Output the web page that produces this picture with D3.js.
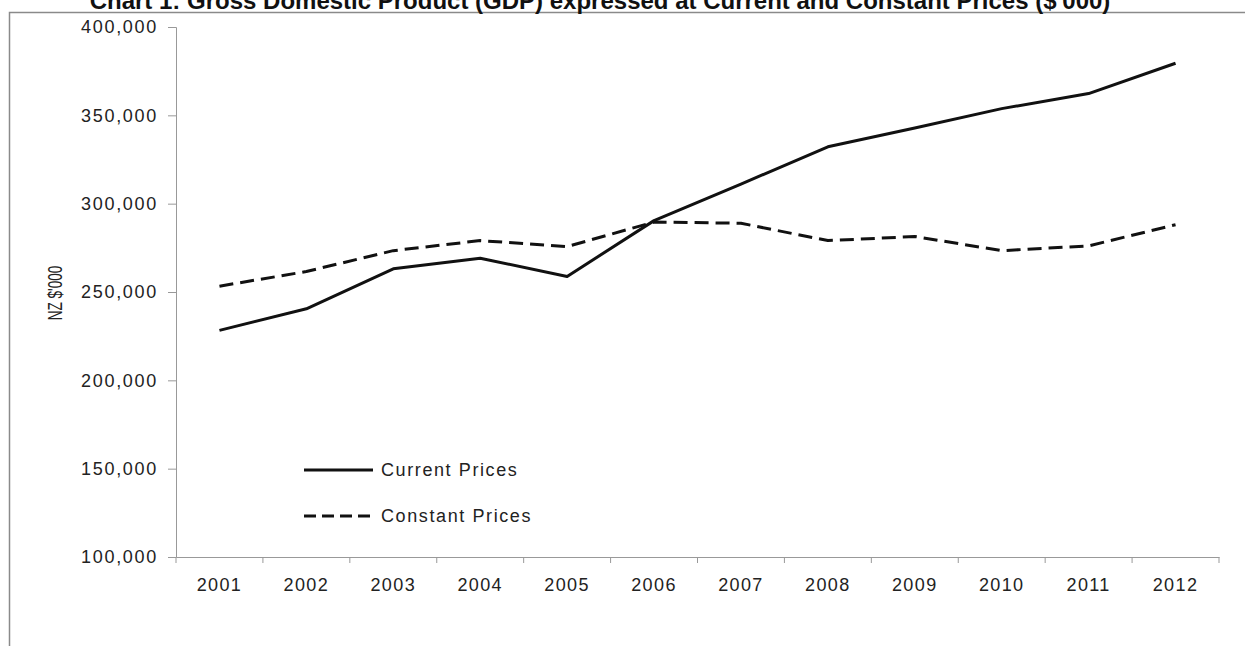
<!DOCTYPE html>
<html>
<head>
<meta charset="utf-8">
<script src="https://cdn.jsdelivr.net/npm/d3@7/dist/d3.min.js"></script>
<style>
  html, body { margin: 0; padding: 0; background: #fff; }
  svg { display: block; }
  text { font-family: "Liberation Sans", Arial, sans-serif; fill: #222; }
</style>
</head>
<body>
<svg id="chart" width="1245" height="646"></svg>
<script>
// GDP in NZ$'000, years 2001–2012
const years = ["2001","2002","2003","2004","2005","2006","2007","2008","2009","2010","2011","2012"];
const currentPrices  = [228300, 240500, 263100, 269100, 258800, 290400, 311100, 332200, 342800, 353800, 362300, 379500];
const constantPrices = [253300, 261600, 273400, 279100, 275700, 289600, 288900, 279100, 281400, 273400, 276100, 288100];
const yTicks = [100000, 150000, 200000, 250000, 300000, 350000, 400000];
const seriesNames = ["Current Prices", "Constant Prices"];

const svg = d3.select("#chart");
const W = 1245, H = 646;
const plot = { left: 176, right: 1219, top: 27, bottom: 557 };

// outer frame
svg.append("rect")
  .attr("x", 9.5).attr("y", 12.5)
  .attr("width", W + 20).attr("height", H + 20)
  .attr("fill", "none").attr("stroke", "#8a8a8a").attr("stroke-width", 1.5);

// title
svg.append("text")
  .attr("x", 600).attr("y", 9)
  .attr("text-anchor", "middle")
  .style("font-weight", "bold").style("font-size", "24px").style("fill", "#111")
  .text("Chart 1: Gross Domestic Product (GDP) expressed at Current and Constant Prices ($'000)");

const x = d3.scaleBand().domain(years).range([plot.left, plot.right]);
const y = d3.scaleLinear().domain([100000, 400000]).range([plot.bottom, plot.top]);

// y axis
const yAxis = svg.append("g")
  .attr("transform", `translate(${plot.left},0)`)
  .call(d3.axisLeft(y).tickValues(yTicks).tickSize(8).tickPadding(10)
    .tickFormat(d3.format(",")));
yAxis.select(".domain").attr("stroke", "#999");
yAxis.selectAll(".tick line").attr("stroke", "#999");
yAxis.selectAll(".tick text")
  .style("font-size", "18px").style("letter-spacing", "1.7px").attr("fill", "#222");

// x axis with ticks on category boundaries
const xAxis = svg.append("g")
  .attr("transform", `translate(0,${plot.bottom})`)
  .call(d3.axisBottom(x).tickSize(0).tickPadding(21));
xAxis.select(".domain").attr("stroke", "#999");
xAxis.selectAll(".tick text")
  .style("font-size", "18px").style("letter-spacing", "1.4px").attr("fill", "#222");
const boundaries = years.map(d => x(d)).concat([x(years[years.length - 1]) + x.bandwidth()]);
xAxis.selectAll(".bound").data(boundaries).join("line")
  .attr("class", "bound")
  .attr("x1", d => d).attr("x2", d => d)
  .attr("y1", 0).attr("y2", 6)
  .attr("stroke", "#999");

// y axis title (condensed)
svg.append("text")
  .attr("transform", "translate(62,293) rotate(-90) scale(0.68,1)")
  .attr("text-anchor", "middle")
  .style("font-size", "20px")
  .text("NZ $'000");

// series lines
const cx = d => x(d) + x.bandwidth() / 2;
const line = d3.line().x(d => cx(d.year)).y(d => y(d.value));

const series = [
  { name: seriesNames[0], values: currentPrices, dash: null },
  { name: seriesNames[1], values: constantPrices, dash: "14,7" }
];

svg.selectAll(".series").data(series).join("path")
  .attr("class", "series")
  .attr("d", s => line(years.map((yr, i) => ({ year: yr, value: s.values[i] }))))
  .attr("fill", "none")
  .attr("stroke", "#111")
  .attr("stroke-width", 3)
  .attr("stroke-linejoin", "round")
  .attr("stroke-dasharray", s => s.dash);

// legend
const legend = svg.append("g").attr("transform", "translate(304,470)");
series.forEach((s, i) => {
  const g = legend.append("g").attr("transform", `translate(0,${i * 46})`);
  g.append("line")
    .attr("x1", 0).attr("x2", 69).attr("y1", 0).attr("y2", 0)
    .attr("stroke", "#111").attr("stroke-width", 3)
    .attr("stroke-dasharray", s.dash ? "12,6" : null);
  g.append("text")
    .attr("x", 77).attr("y", 6)
    .style("font-size", "18px").style("letter-spacing", "1.6px")
    .text(s.name);
});
</script>
</body>
</html>
